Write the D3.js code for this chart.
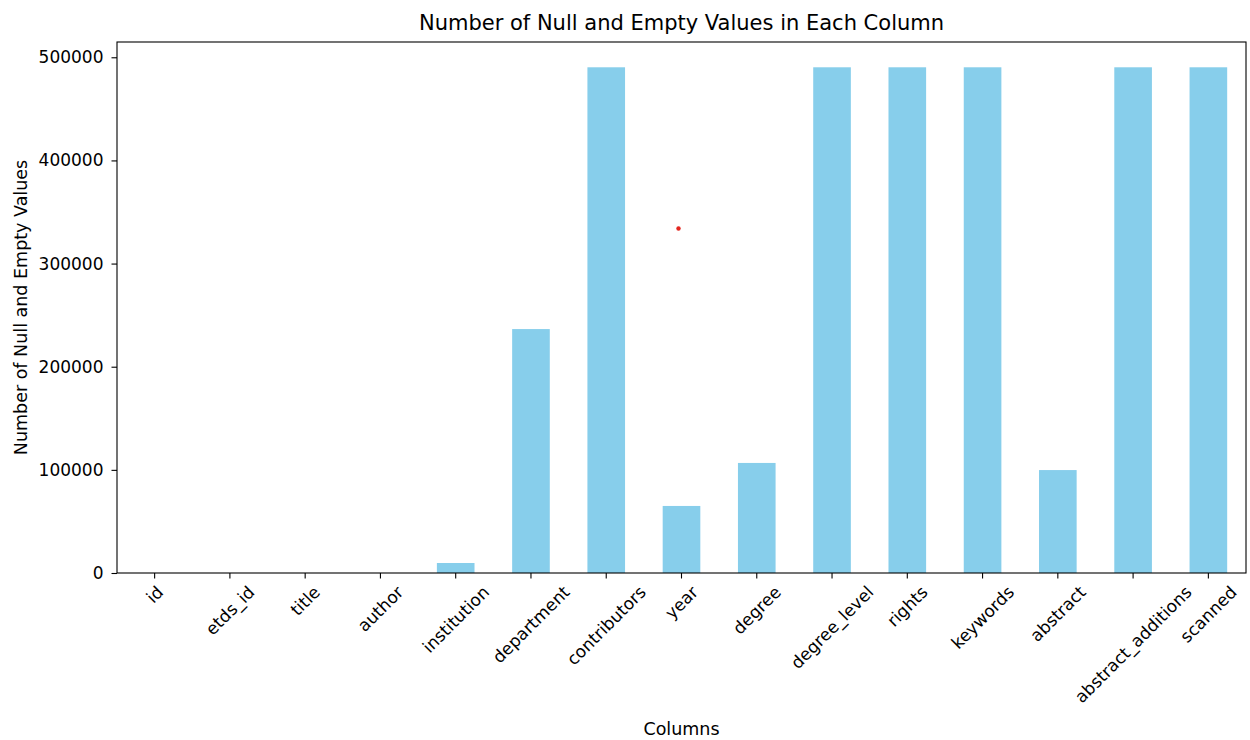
<!DOCTYPE html>
<html>
<head>
<meta charset="utf-8">
<script src="https://cdn.jsdelivr.net/npm/d3@7"></script>
<style>
  body { margin: 0; background: #fff; }
  svg { display: block; font-family: "DejaVu Sans", sans-serif; }
</style>
</head>
<body>
<svg id="chart" width="1250" height="740"></svg>
<script>
const categories = ["id", "etds_id", "title", "author", "institution", "department", "contributors", "year", "degree", "degree_level", "rights", "keywords", "abstract", "abstract_additions", "scanned"];
const values = [0, 0, 0, 0, 9700, 236500, 490300, 65000, 106700, 490300, 490300, 490300, 99800, 490300, 490300];
const yTicks = [0, 100000, 200000, 300000, 400000, 500000];
const strayPoint = [{ category: "year", value: 334000 }];

const W = 1250, H = 740;
const m = { left: 117, right: 4, top: 42, bottom: 167 };
const svg = d3.select("#chart");
const pw = W - m.left - m.right, ph = H - m.top - m.bottom;

const x = d3.scaleBand().domain(categories).range([m.left, m.left + pw]).paddingInner(0).paddingOuter(0);
const yMax = d3.max(values) * 1.05;
const y = d3.scaleLinear().domain([0, yMax]).range([m.top + ph, m.top]);

const barW = x.bandwidth() * 0.5;
svg.append("g").selectAll("rect").data(categories).join("rect")
  .attr("x", (d) => x(d) + x.bandwidth() / 2 - barW / 2)
  .attr("y", (d, i) => y(values[i]))
  .attr("width", barW)
  .attr("height", (d, i) => y(0) - y(values[i]))
  .attr("fill", "#87CEEB");

svg.append("g").selectAll("circle").data(strayPoint).join("circle")
  .attr("cx", d => x(d.category) + x.bandwidth() / 2 - 3)
  .attr("cy", d => y(d.value))
  .attr("r", 2.2)
  .attr("fill", "#e3261f");

const tickFs = 17;
// Y axis
const yAxis = svg.append("g").attr("transform", `translate(${m.left},0)`)
  .call(d3.axisLeft(y).tickValues(yTicks).tickFormat(d3.format("d")).tickSize(5.5).tickPadding(8));
yAxis.select(".domain").remove();
yAxis.selectAll("text").attr("font-size", tickFs).attr("fill", "#000").attr("font-family", "DejaVu Sans, sans-serif");
yAxis.selectAll("line").attr("stroke", "#000").attr("stroke-width", 1.1);

// X axis ticks
const xAxis = svg.append("g").attr("transform", `translate(0,${m.top + ph})`)
  .call(d3.axisBottom(x).tickSize(5.5).tickFormat(""));
xAxis.select(".domain").remove();
xAxis.selectAll("line").attr("stroke", "#000").attr("stroke-width", 1.1);

// rotated x labels, bbox centered under tick
const labelTop = m.top + ph + 10;
const lg = svg.append("g").attr("font-size", tickFs).attr("fill", "#000");
categories.forEach(c => {
  const t = lg.append("text").text(c)
    .attr("text-anchor", "middle")
    .attr("dominant-baseline", "central");
  const w = t.node().getComputedTextLength();
  const h = tickFs * 1.0;
  const bh = (w + h) * Math.SQRT1_2;
  t.attr("transform", `translate(${x(c) + x.bandwidth() / 2},${labelTop + bh / 2}) rotate(-45)`);
});

// frame
svg.append("rect")
  .attr("x", m.left).attr("y", m.top).attr("width", pw).attr("height", ph)
  .attr("fill", "none").attr("stroke", "#000").attr("stroke-width", 1.1);

// title & labels
svg.append("text").attr("x", m.left + pw / 2).attr("y", 30)
  .attr("text-anchor", "middle").attr("font-size", 21).attr("fill", "#000")
  .text("Number of Null and Empty Values in Each Column");
svg.append("text").attr("x", m.left + pw / 2).attr("y", 735)
  .attr("text-anchor", "middle").attr("font-size", 17.5).attr("fill", "#000")
  .text("Columns");
svg.append("text")
  .attr("transform", `translate(27,${m.top + ph / 2}) rotate(-90)`)
  .attr("text-anchor", "middle").attr("font-size", 17.5).attr("fill", "#000")
  .text("Number of Null and Empty Values");
</script>
</body>
</html>
